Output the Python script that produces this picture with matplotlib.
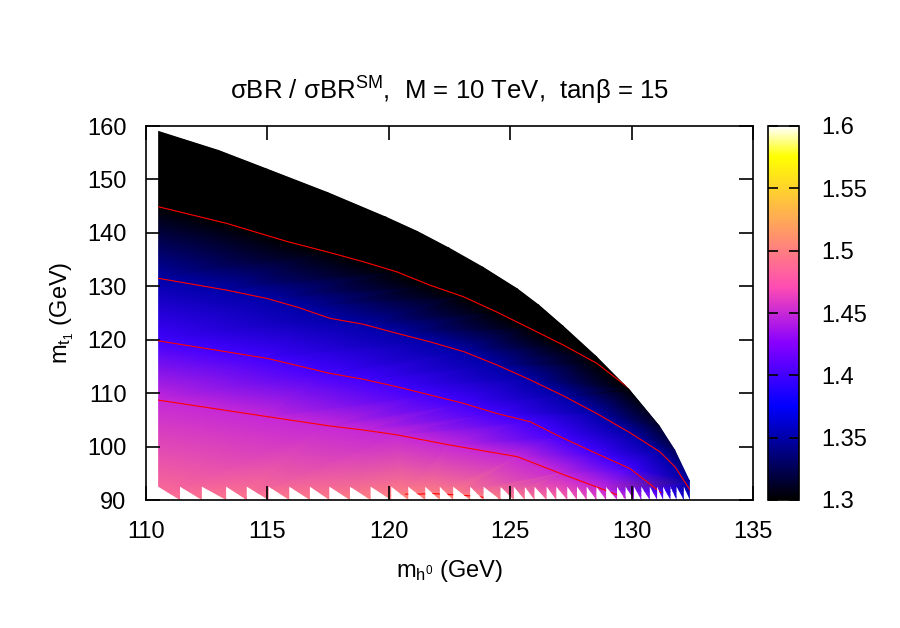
import matplotlib
matplotlib.use('Agg')
import numpy as np
import matplotlib.pyplot as plt
from matplotlib.patches import Polygon
from matplotlib.tri import Triangulation
from matplotlib.ticker import FormatStrFormatter

plt.rcParams['font.family'] = ['Liberation Sans', 'DejaVu Sans']
plt.rcParams['mathtext.fontset'] = 'custom'
plt.rcParams['mathtext.rm'] = 'Liberation Sans'
plt.rcParams['mathtext.it'] = 'Liberation Sans:italic'
plt.rcParams['font.size'] = 17

# upper edge of the scanned region: m_h0, m_t1 and sigmaBR ratio there
EDGE_MH = [110.5, 113.0, 115.0, 117.5, 119.9, 121.2, 122.5, 123.9, 125.3,
           126.2, 127.19, 128.56, 129.93, 131.17, 131.79, 132.4]
EDGE_MT = [159.1, 155.5, 152.0, 147.6, 143.0, 140.3, 137.2, 133.6, 129.6,
           126.5, 122.6, 116.9, 110.6, 103.8, 99.4, 93.6]
EDGE_Z = [1.24, 1.245, 1.25, 1.255, 1.26, 1.265, 1.27, 1.275, 1.28,
          1.285, 1.29, 1.295, 1.30, 1.315, 1.325, 1.345]

# lowest row (m_t1 = 90)
BOT_MH = [110.5, 114.0, 118.0, 121.0, 123.0, 124.9, 127.0, 129.7, 131.2, 132.4]
BOT_Z = [1.492, 1.495, 1.499, 1.507, 1.507, 1.500, 1.486, 1.455, 1.41, 1.36]

# sawtooth lower edge of the scan
TOOTH_MH = [110.5, 111.4, 112.3, 113.3, 114.15, 115.05, 115.9, 116.75, 117.55,
            118.4, 119.25, 120.1, 120.8, 121.5, 122.1, 122.65, 123.35, 123.9,
            124.6, 125.15, 125.6, 126.0, 126.5, 126.9, 127.35, 127.75, 128.15,
            128.55, 128.95, 129.4, 129.75, 130.1, 130.4, 130.75, 131.05, 131.3,
            131.6, 131.85, 132.15, 132.4]
TOOTH_TOP = 92.5
MT_MIN = 90.0

# contour lines
LEVELS = [1.30, 1.35, 1.40, 1.45, 1.50]
C130_MH = [110.5, 113.3, 115.8, 117.58, 118.95, 120.33, 121.7, 123.07, 124.44,
           125.82, 127.19, 128.56, 129.9]
C130_MT = [144.9, 141.8, 138.4, 136.3, 134.6, 132.7, 130.2, 128.05, 125.2,
           122.1, 119.0, 115.6, 110.9]
C135_MH = [110.5, 113.3, 115.0, 116.3, 117.58, 118.95, 120.33, 121.7, 123.07,
           124.44, 125.82, 127.19, 128.56, 129.93, 131.17, 131.79, 132.4]
C135_MT = [131.5, 129.3, 127.7, 126.0, 124.0, 122.9, 121.2, 119.6, 117.8,
           115.3, 112.5, 109.5, 106.2, 102.6, 99.0, 96.2, 91.9]
C140_MH = [110.5, 115.0, 117.58, 118.95, 120.33, 121.7, 123.07, 124.44, 125.82,
           127.05, 128.7, 129.93, 131.2]
C140_MT = [119.8, 116.5, 113.7, 112.6, 111.2, 109.65, 108.1, 106.2, 104.65,
           101.85, 98.4, 95.9, 91.4]
C145_MH = [110.5, 115.0, 117.58, 118.95, 120.33, 122.5, 125.3, 127.05, 128.7, 129.66]
C145_MT = [108.7, 105.6, 103.85, 103.1, 102.2, 100.3, 98.1, 95.0, 92.2, 90.5]
C150_MH = [120.7, 121.2, 121.8, 122.6, 123.3, 124.5]
C150_MT = [91.1, 91.1, 91.2, 91.0, 90.8, 90.2]

CONTOURS = [(C130_MH, C130_MT), (C135_MH, C135_MT), (C140_MH, C140_MT),
            (C145_MH, C145_MT), (C150_MH, C150_MT)]

# scattered samples of the surface
pts_x = list(EDGE_MH) + list(BOT_MH)
pts_y = list(EDGE_MT) + [MT_MIN] * len(BOT_MH)
pts_z = list(EDGE_Z) + list(BOT_Z)
for lev, (cx, cy) in zip(LEVELS, CONTOURS):
    pts_x += cx
    pts_y += cy
    pts_z += [lev] * len(cx)
pts_x, pts_y, pts_z = map(np.asarray, (pts_x, pts_y, pts_z))

fig = plt.figure(figsize=(9, 6.28), dpi=100)
ax = fig.add_axes([146 / 900, 1 - 500 / 628, 607 / 900, 374 / 628])
cax = fig.add_axes([768 / 900, 1 - 500 / 628, 31 / 900, 374 / 628])

# outline of the region (upper edge, right side, sawtooth bottom)
saw = []
for i in range(len(TOOTH_MH) - 1):
    saw.append((TOOTH_MH[i], TOOTH_TOP))
    saw.append((TOOTH_MH[i + 1], MT_MIN))
outline = list(zip(EDGE_MH, EDGE_MT)) + [(EDGE_MH[-1], MT_MIN)] + saw[::-1]
region = Polygon(outline, closed=True, transform=ax.transData, fc='none', ec='none')

tri = Triangulation(pts_x, pts_y)
mesh = ax.tripcolor(tri, pts_z, shading='gouraud', cmap='gnuplot2',
                    vmin=1.3, vmax=1.6, zorder=1)
mesh.set_clip_path(region)

for cx, cy in CONTOURS:
    ln, = ax.plot(cx, cy, color='red', lw=0.8, zorder=2)
    ln.set_clip_path(region)

ax.set_xlim(110, 135)
ax.set_ylim(90, 160)
ax.set_xticks(np.arange(110, 136, 5))
ax.set_yticks(np.arange(90, 161, 10))
ax.tick_params(direction='in', top=True, right=True, length=10, width=1.2)
ax.tick_params(axis='x', pad=15)
ax.tick_params(axis='y', pad=14)
for s in ax.spines.values():
    s.set_linewidth(1.2)

ax.set_xlabel(r'm$_{\mathrm{h}^0}$ (GeV)', labelpad=11)
ax.set_ylabel(r'm$_{\mathrm{t}_1}$ (GeV)', labelpad=8)
ax.set_title(r'σBR / σBR$^{\mathrm{SM}}$,  M = 10 TeV,  tanβ = 15',
             fontsize=18.5, pad=19)

cb = fig.colorbar(mesh, cax=cax, ticks=[1.3, 1.35, 1.4, 1.45, 1.5, 1.55, 1.6])
cb.ax.yaxis.set_major_formatter(FormatStrFormatter('%g'))
cb.ax.minorticks_off()
cb.ax.tick_params(direction='in', left=True, right=True, length=7, width=1.2, pad=16)
cb.outline.set_linewidth(1.2)

fig.savefig('out.png', dpi=100, facecolor='white')
